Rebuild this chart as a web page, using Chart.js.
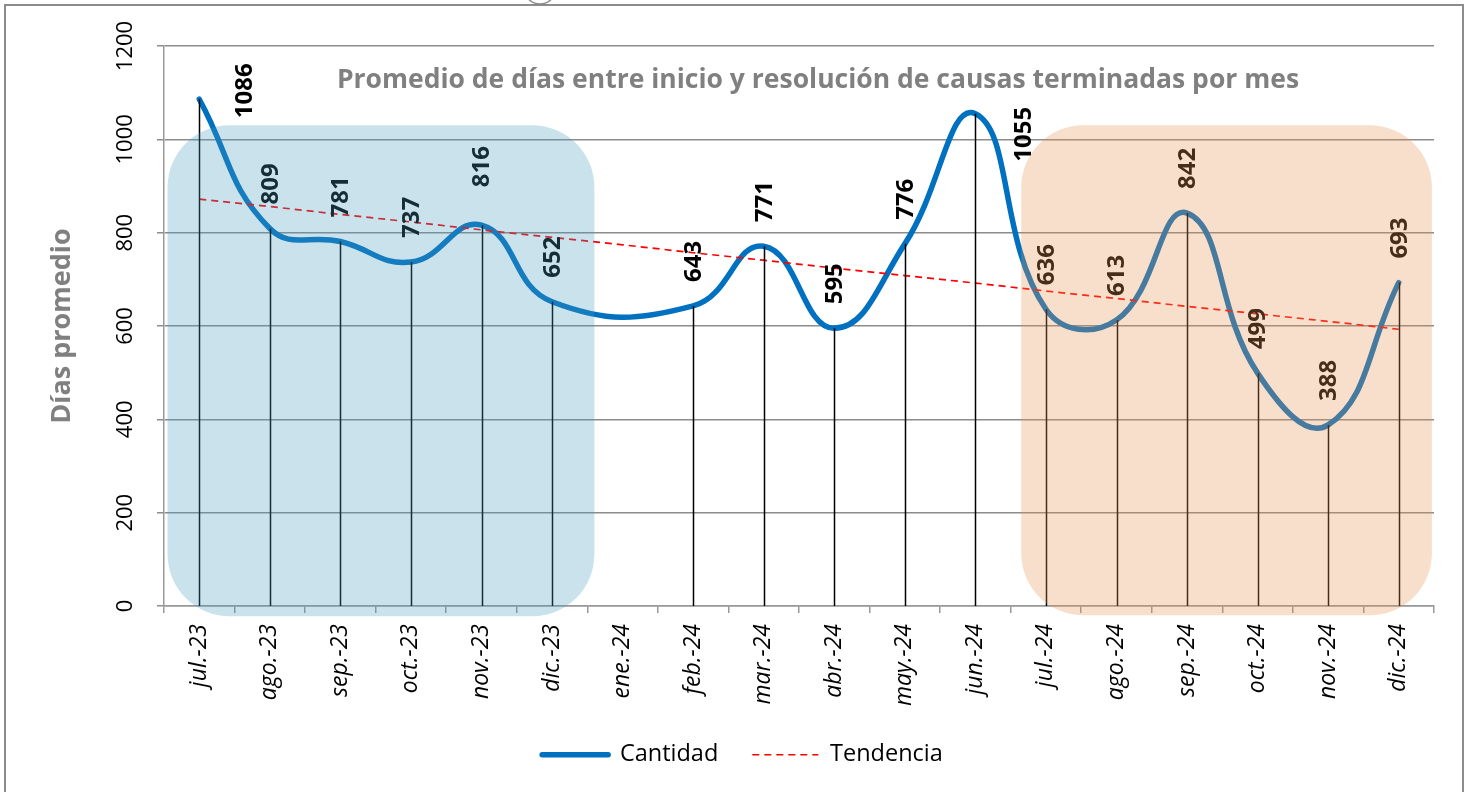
<!DOCTYPE html>
<html>
<head>
<meta charset="utf-8">
<script src="https://cdn.jsdelivr.net/npm/chart.js@4.4.1/dist/chart.umd.min.js"></script>
<style>
html,body{margin:0;padding:0;background:#fff;}
#wrap{width:1470px;height:792px;position:relative;}
</style>
</head>
<body>
<div id="wrap"><canvas id="c" width="1470" height="792"></canvas></div>
<script>
// ---- data ----
const categories = ['jul.-23','ago.-23','sep.-23','oct.-23','nov.-23','dic.-23','ene.-24','feb.-24','mar.-24','abr.-24','may.-24','jun.-24','jul.-24','ago.-24','sep.-24','oct.-24','nov.-24','dic.-24'];
const cantidad = [1086, 809, 781, 737, 816, 652, null, 643, 771, 595, 776, 1055, 636, 613, 842, 499, 388, 693];
const tendencia = [872, 856, 839, 823, 806, 790, 774, 757, 741, 724, 708, 692, 675, 659, 642, 626, 610, 593];
const yTickValues = [0, 200, 400, 600, 800, 1000, 1200];
const seriesNames = ['Cantidad', 'Tendencia'];
const chartTitle = 'Promedio de días entre inicio y resolución de causas terminadas por mes';
const yAxisTitle = 'Días promedio';

// ---- styling / annotation config ----
const FONT = 'Open Sans';
const labelGap = 24; // default gap between point and start of its rotated label
const labelNudge = {0: {dx: 45, dy: 19}, 4: {dx: 0, dy: -38}, 11: {dx: 48, dy: 48}};
const highlightBands = [
  {from: -0.45, to: 5.6, top: 1030, bottom: -22, color: 'rgba(69,155,190,0.29)'},
  {from: 11.65, to: 17.47, top: 1030, bottom: -20, color: 'rgba(233,150,83,0.30)'}
];

function roundRectPath(ctx, x, y, w, h, r) {
  r = Math.min(r, w / 2, h / 2);
  ctx.beginPath();
  ctx.moveTo(x + r, y);
  ctx.lineTo(x + w - r, y);
  ctx.arcTo(x + w, y, x + w, y + r, r);
  ctx.lineTo(x + w, y + h - r);
  ctx.arcTo(x + w, y + h, x + w - r, y + h, r);
  ctx.lineTo(x + r, y + h);
  ctx.arcTo(x, y + h, x, y + h - r, r);
  ctx.lineTo(x, y + r);
  ctx.arcTo(x, y, x + r, y, r);
  ctx.closePath();
}

const decor = {
  id: 'decor',
  beforeDraw(chart) {
    const ctx = chart.ctx;
    ctx.save();
    ctx.fillStyle = '#fff';
    ctx.fillRect(0, 0, chart.width, chart.height);
    ctx.restore();
  },
  afterDatasetsDraw(chart) {
    const ctx = chart.ctx;
    const x = chart.scales.x, y = chart.scales.y;
    const meta = chart.getDatasetMeta(0);
    const base = y.getPixelForValue(0);
    // drop lines
    ctx.save();
    ctx.strokeStyle = '#000';
    ctx.lineWidth = 1.5;
    meta.data.forEach((pt, i) => {
      if (cantidad[i] === null) return;
      ctx.beginPath();
      ctx.moveTo(Math.round(pt.x) + 0.5, pt.y);
      ctx.lineTo(Math.round(pt.x) + 0.5, base);
      ctx.stroke();
    });
    ctx.restore();
    // data labels
    ctx.save();
    ctx.fillStyle = '#000';
    ctx.font = 'bold 24px "' + FONT + '"';
    ctx.textBaseline = 'middle';
    ctx.textAlign = 'left';
    meta.data.forEach((pt, i) => {
      const v = cantidad[i];
      if (v === null) return;
      const n = labelNudge[i] || {dx: 0, dy: -labelGap};
      ctx.save();
      ctx.translate(pt.x + n.dx, pt.y + n.dy);
      ctx.rotate(-Math.PI / 2);
      ctx.fillText(String(v), 0, 1);
      ctx.restore();
    });
    ctx.restore();
    // translucent highlight bands
    highlightBands.forEach(b => {
      const x0 = x.getPixelForValue(b.from), x1 = x.getPixelForValue(b.to);
      const y0 = y.getPixelForValue(b.top), y1 = y.getPixelForValue(b.bottom);
      ctx.save();
      ctx.fillStyle = b.color;
      roundRectPath(ctx, x0, y0, x1 - x0, y1 - y0, 62);
      ctx.fill();
      ctx.restore();
    });
  },
  afterDraw(chart) {
    const ctx = chart.ctx;
    const y = chart.scales.y;
    const ca = chart.chartArea;
    ctx.save();
    // chart title inside plot
    ctx.fillStyle = '#808080';
    ctx.font = 'bold 26.5px "' + FONT + '"';
    ctx.textAlign = 'center';
    ctx.textBaseline = 'middle';
    ctx.fillText(chartTitle, (ca.left + ca.right) / 2 + 19, 80);
    // y axis title
    ctx.font = 'bold 27px "' + FONT + '"';
    ctx.save();
    ctx.translate(62, (ca.top + ca.bottom) / 2);
    ctx.rotate(-Math.PI / 2);
    ctx.fillText(yAxisTitle, 0, 0);
    ctx.restore();
    // y tick labels (rotated)
    ctx.fillStyle = '#000';
    ctx.font = '22px "' + FONT + '"';
    yTickValues.forEach(v => {
      const py = y.getPixelForValue(v);
      ctx.save();
      ctx.translate(126, py);
      ctx.rotate(-Math.PI / 2);
      ctx.fillText(String(v), 0, 0);
      ctx.restore();
    });
    // outer frame
    ctx.strokeStyle = '#8c8c8c';
    ctx.lineWidth = 2;
    ctx.strokeRect(5, 5, 1458, 800);
    // small arc at the top edge
    ctx.beginPath();
    ctx.arc(540, -12, 16, 0, Math.PI);
    ctx.lineWidth = 1.5;
    ctx.stroke();
    ctx.restore();
  }
};

Chart.defaults.font.family = FONT;

new Chart(document.getElementById('c'), {
  type: 'line',
  data: {
    labels: categories,
    datasets: [
      {
        label: seriesNames[0],
        data: cantidad,
        borderColor: '#0070C0',
        backgroundColor: '#0070C0',
        borderWidth: 5.5,
        borderCapStyle: 'round',
        pointRadius: 0,
        tension: 0.45,
        spanGaps: true,
        fill: false,
        order: 1
      },
      {
        label: seriesNames[1],
        data: tendencia,
        borderColor: '#FF0000',
        backgroundColor: '#FF0000',
        borderWidth: 1.7,
        borderDash: [7, 5],
        pointRadius: 0,
        tension: 0,
        fill: false,
        order: 0
      }
    ]
  },
  options: {
    responsive: false,
    devicePixelRatio: 1,
    animation: false,
    layout: {padding: {left: 51, right: 36, top: 46, bottom: 15.5}},
    plugins: {
      legend: {
        position: 'bottom',
        labels: {
          usePointStyle: true,
          pointStyle: 'line',
          pointStyleWidth: 66,
          font: {family: FONT, size: 23.5},
          color: '#000',
          padding: 34,
          sort: (a, b) => a.datasetIndex - b.datasetIndex,
          generateLabels(chart) {
            const items = Chart.defaults.plugins.legend.labels.generateLabels(chart);
            items.forEach(it => {
              const ds = chart.data.datasets[it.datasetIndex];
              it.lineDash = ds.borderDash || [];
              it.lineWidth = ds.borderWidth;
              it.strokeStyle = ds.borderColor;
              it.fillStyle = ds.borderColor;
              it.lineCap = ds.borderCapStyle || 'butt';
              it.pointStyle = 'line';
            });
            return items;
          }
        }
      },
      tooltip: {enabled: false}
    },
    scales: {
      x: {
        type: 'category',
        offset: true,
        grid: {display: true, drawOnChartArea: false, drawTicks: true, tickLength: 7, offset: true, color: '#999', lineWidth: 1.5},
        border: {display: true, color: '#999', width: 1.5},
        ticks: {minRotation: 90, maxRotation: 90, autoSkip: false, padding: 11, color: '#000', font: {family: FONT, size: 23, style: 'italic'}},
        afterFit(s) { s.height = 103; }
      },
      y: {
        min: 0, max: 1200,
        ticks: {stepSize: 200, display: false},
        grid: {color: '#8c8c8c', lineWidth: 1.5, tickLength: 7, drawTicks: true},
        border: {display: true, color: '#999', width: 1.5},
        afterFit(s) { s.width = 113; }
      }
    }
  },
  plugins: [decor]
});
</script>
</body>
</html>
